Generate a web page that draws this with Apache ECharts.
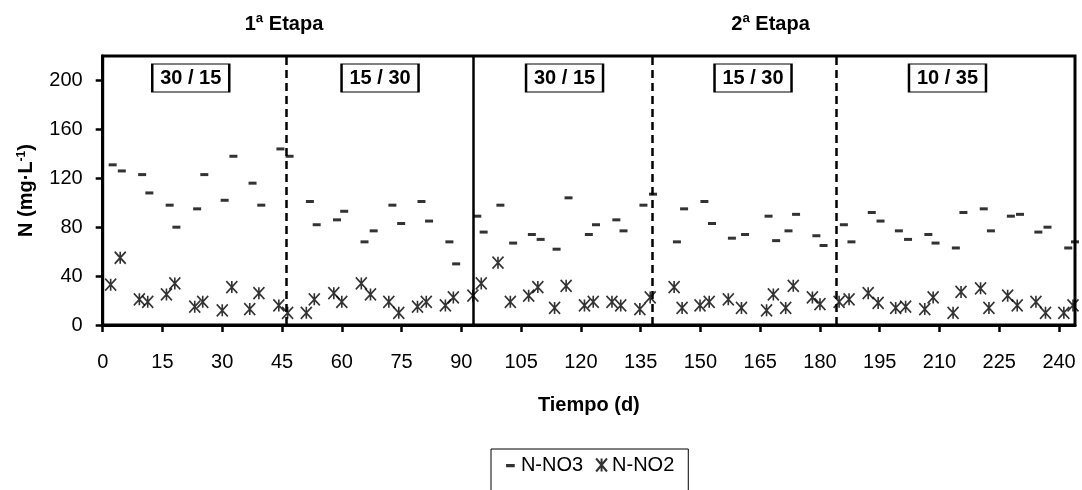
<!DOCTYPE html>
<html><head><meta charset="utf-8">
<script src="https://cdn.jsdelivr.net/npm/echarts@6/dist/echarts.min.js"></script>
<style>html,body{margin:0;padding:0;background:#fff}#c{width:1082px;height:490px}</style>
</head><body><div id="c"></div>
<script>
// ---- data ----
const no3Days = [2.5,4.8,9.9,11.7,16.8,18.5,23.7,25.5,30.6,32.8,37.6,39.8,44.6,46.9,52,53.7,58.8,60.6,65.7,68,72.7,74.9,80,81.9,87,88.7,94,95.6,99.8,103,107.7,109.9,113.9,116.9,122,123.8,128.9,130.7,135.7,138.1,144.1,145.9,151,152.9,157.9,161.2,167.1,169,172.1,174,179.1,180.9,186,187.9,193,195.2,199.8,202.1,207.2,209,214.1,216,221.1,222.9,227.9,230.2,234.8,237.1,242.3,244];
const no3Vals = [131,126,123,108,98,80,95,123,102,138,116,98,144,138,101,82,86,93,68,77,98,83,101,85,68,50,89,76,98,67,74,70,62,104,74,82,86,77,98,107,68,95,101,83,71,74,89,69,77,90.5,73,65,82,68,92,85,77,70,74,67,63,92,95,77,89,90.5,76,80,63,68];
const no2Days = [2,4.4,9.2,11.3,16,18.1,23.1,25.1,30,32.4,36.9,39.2,44.2,46.4,51.1,53.1,58,60,64.9,67.2,71.8,74.3,79,81.2,86,88,92.9,95,99.2,102.3,106.9,109.2,113.4,116.3,120.9,123.1,127.8,130,134.8,137.4,143.4,145.4,149.9,152.2,157,160.3,166.6,168.3,171.4,173.3,178.1,180,184.8,187.3,192.1,194.6,199,201.5,206.3,208.4,213.4,215.4,220.3,222.4,227.1,229.5,234.2,236.6,241.2,243.5];
const no2Vals = [33,55,21,19,25,34,15,19,12,31,13,26,16,10,10,21,26,19,34,25,19,10,15,19,16,22.5,24,34,51,19,24,31,14,32,16,19,19,16,13,22.5,31,14,16,19,21,14,12,25,14,32,22.5,17,19,21,26,18,14,15,13,22.5,10,27,30,14,24,16,19,10,10,16];
const xTicks = [0,15,30,45,60,75,90,105,120,135,150,165,180,195,210,225,240];
const yTicks = [0,40,80,120,160,200];
const dashedDays = [46,138,184];
const solidDays = [93];
const phaseLabels = ['30 / 15','15 / 30','30 / 15','15 / 30','10 / 35'];
const phaseLabelDays = [22.1,69.6,115.9,163.2,212];
const phaseLabelY = 202;
const stageNames = ['1ª Etapa','2ª Etapa'];
const stageDays = [45.5,167.6];
const seriesNames = ['N-NO3','N-NO2'];

const FONT = '"Liberation Sans Narrow","Arial Narrow","Liberation Sans",Arial,sans-serif';
const ASTER = 'path://M0,0L10,12M10,0L0,12M5,0L5,12';
const DASH = 'path://M0,0L0.01,0M1,5h8v3h-8zM10,12L10.01,12';

const chart = echarts.init(document.getElementById('c'), null, {renderer:'canvas'});
const option = {
  animation:false,
  backgroundColor:'#fff',
  grid:{left:102.7, right:7, top:56, bottom:165, show:true, borderColor:'#000', borderWidth:3, backgroundColor:'transparent'},
  xAxis:{type:'value', min:0, max:244,
    name:'Tiempo (d)', nameLocation:'middle', nameGap:70,
    nameTextStyle:{fontFamily:FONT, fontWeight:'bold', fontSize:20, color:'#000'},
    axisLine:{show:true, lineStyle:{color:'#000', width:3}},
    axisTick:{show:true, length:7, lineStyle:{color:'#000', width:2.5}, customValues:xTicks},
    axisLabel:{customValues:xTicks, margin:27, fontFamily:FONT, fontSize:20, color:'#000'},
    splitLine:{show:false}},
  yAxis:{type:'value', min:0, max:220,
    name:'N (mg·L{sup|-1})', nameLocation:'middle', nameGap:66, nameRotate:90,
    nameTextStyle:{fontFamily:FONT, fontWeight:'bold', fontSize:20, color:'#000',
      rich:{sup:{fontFamily:FONT, fontWeight:'bold', fontSize:12, verticalAlign:'bottom', padding:[0,0,9,0], color:'#000'}}},
    axisLine:{show:true, lineStyle:{color:'#000', width:3}},
    axisTick:{show:true, length:7, lineStyle:{color:'#000', width:2.5}, customValues:yTicks},
    axisLabel:{customValues:yTicks, margin:20, fontFamily:FONT, fontSize:20, color:'#000'},
    splitLine:{show:false}},
  legend:{left:491, top:449, padding:[6,14,20,14], itemGap:12, itemWidth:11, itemHeight:13,
    borderColor:'#000', borderWidth:1, backgroundColor:'#fff',
    textStyle:{fontFamily:FONT, fontSize:20, color:'#000'},
    data:[{name:seriesNames[0], icon:DASH},{name:seriesNames[1], icon:ASTER}]},
  series:[
    {name:seriesNames[0], type:'scatter', clip:false, symbol:'rect', symbolSize:[8,3],
      itemStyle:{color:'#000'}, z:3,
      data:no3Days.map((d,i)=>[d,no3Vals[i]]),
      markLine:{silent:true, symbol:'none', label:{show:false},
        data:[...dashedDays.map(d=>({xAxis:d, lineStyle:{type:[8,5], width:2.5, color:'#000'}})),
              ...solidDays.map(d=>({xAxis:d, lineStyle:{type:'solid', width:2.5, color:'#000'}}))]},
      markPoint:{silent:true, symbol:'rect', symbolSize:[77,28],
        itemStyle:{color:'#fff', borderColor:'#000', borderWidth:1.5},
        label:{show:true, position:'inside', formatter:p=>p.name, fontFamily:FONT, fontWeight:'bold', fontSize:20, color:'#000'},
        data:phaseLabels.map((t,i)=>({name:t, coord:[phaseLabelDays[i], phaseLabelY]}))}
    },
    {name:seriesNames[1], type:'scatter', clip:false, symbol:ASTER, symbolSize:[11,12],
      itemStyle:{color:'#000', borderColor:'#000', borderWidth:1.7}, z:4,
      data:no2Days.map((d,i)=>[d,no2Vals[i]])}
  ]
};
chart.setOption(option);
const y0 = 24;
chart.setOption({graphic: stageNames.map((t,i)=>({type:'text', x:chart.convertToPixel({xAxisIndex:0}, stageDays[i]), y:y0,
  style:{text:t, fontFamily:FONT, fontWeight:'bold', fontSize:20, fill:'#000', align:'center', verticalAlign:'middle'}}))});
</script></body></html>
